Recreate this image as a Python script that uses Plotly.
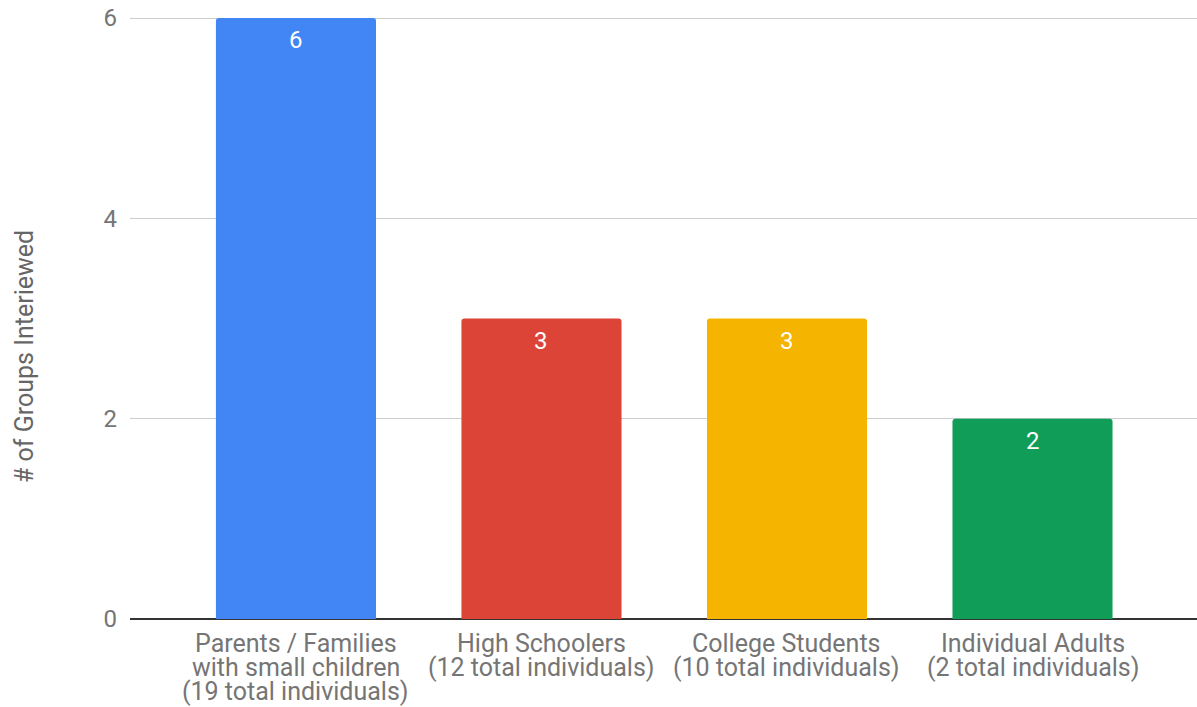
import plotly.graph_objects as go

category_lines = [
    ["Parents / Families", "with small children", "(19 total individuals)"],
    ["High Schoolers", "(12 total individuals)"],
    ["College Students", "(10 total individuals)"],
    ["Individual Adults", "(2 total individuals)"],
]
values = [6, 3, 3, 2]
colors = ["#4285F4", "#DB4437", "#F4B400", "#0F9D58"]
y_ticks = [0, 2, 4, 6]
y_title = "# of Groups Interiewed"

xs = list(range(len(values)))

fig = go.Figure()
fig.add_trace(go.Bar(
    x=xs,
    y=values,
    width=0.652,
    marker=dict(color=colors, line=dict(width=0), cornerradius=3),
    hoverinfo="skip",
))

annotations = []
# value labels inside bars
for x, v in zip(xs, values):
    annotations.append(dict(
        x=x, y=v, xref="x", yref="y", text=str(v), showarrow=False,
        yanchor="middle", xanchor="center", yshift=-22,
        font=dict(family="Roboto", size=24, color="white"),
    ))
# category labels (multi-line, tight spacing as in the reference)
for x, lines in zip(xs, category_lines):
    for i, line in enumerate(lines):
        annotations.append(dict(
            x=x, y=0, xref="x", yref="y", text=line, showarrow=False,
            yanchor="middle", xanchor="center", yshift=-24 * (i + 1),
            borderpad=0,
            font=dict(family="Roboto", size=25, color="#757575"),
        ))
# y axis title
annotations.append(dict(
    x=-0.0984, y=0.4345, xref="paper", yref="paper", text=y_title,
    showarrow=False, textangle=-90, xanchor="center", yanchor="middle",
    font=dict(family="Roboto", size=25, color="#666666"),
))

fig.update_layout(
    width=1197, height=707,
    margin=dict(l=130, r=0, t=16, b=88),
    plot_bgcolor="white", paper_bgcolor="white",
    font=dict(family="Roboto", size=24, color="#757575"),
    showlegend=False,
    annotations=annotations,
)
fig.update_xaxes(
    range=[-0.676, 3.670],
    showticklabels=False,
    showgrid=False, showline=False, zeroline=False, ticks="",
)
fig.update_yaxes(
    range=[0, 6.02],
    tickvals=y_ticks,
    showgrid=True, gridcolor="#cccccc", gridwidth=1,
    zeroline=True, zerolinecolor="#333333", zerolinewidth=2,
    showline=False,
    ticks="", ticklabelstandoff=12,
    tickfont=dict(family="Roboto", size=24, color="#757575"),
)

fig.write_html("out.html")
